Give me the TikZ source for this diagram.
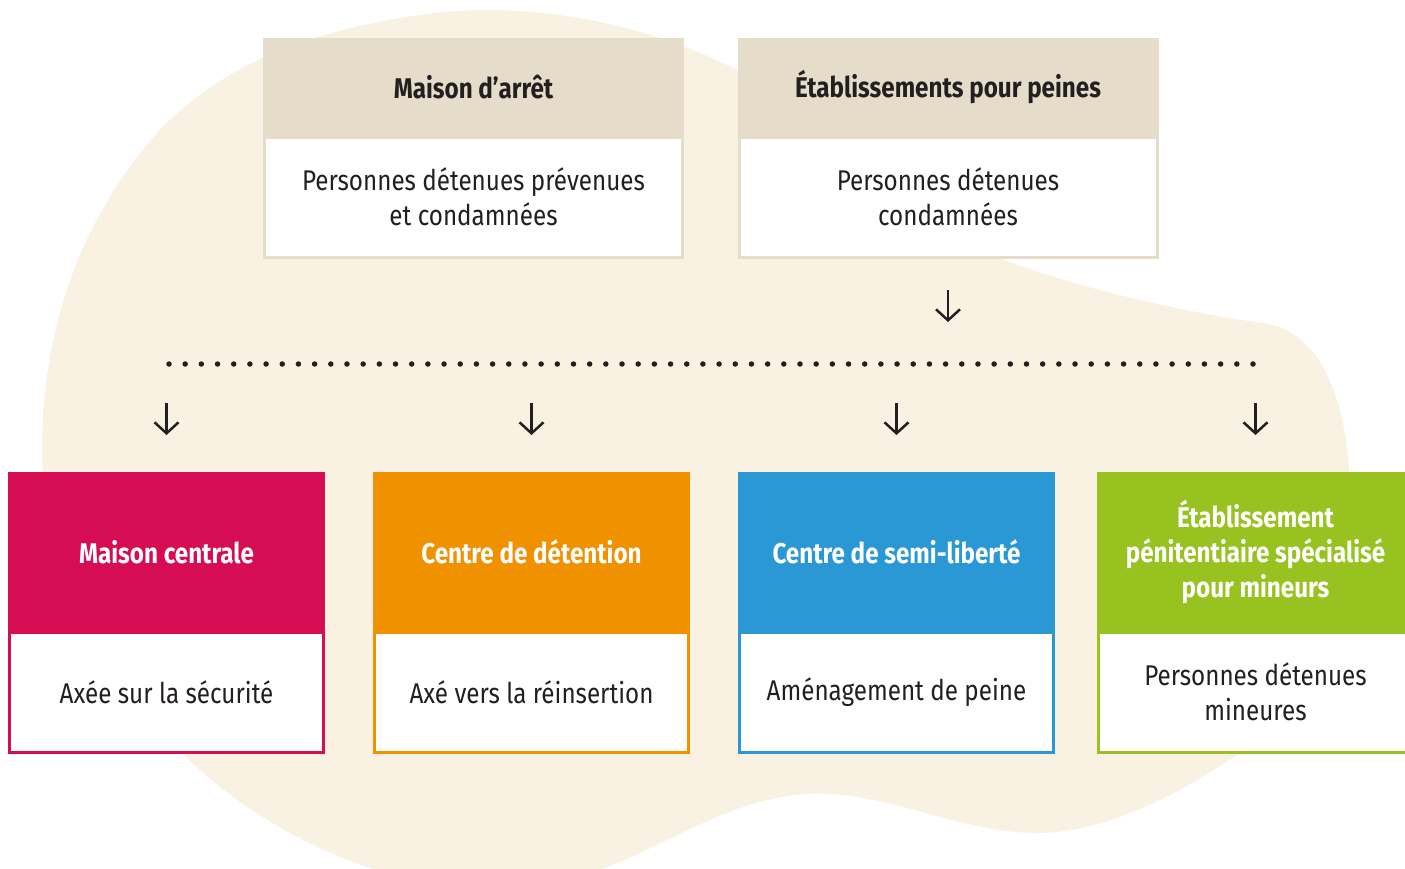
\documentclass[tikz,border=0pt]{standalone}
\usepackage{fontspec}
\setmainfont{Fira Sans}[FakeStretch=0.85]
\usetikzlibrary{positioning,arrows.meta}
\definecolor{blob}{HTML}{F9F1E1}
\definecolor{beige}{HTML}{E5DDCA}
\definecolor{ink}{HTML}{231F20}
\definecolor{rouge}{HTML}{D60D52}
\definecolor{orangec}{HTML}{F09200}
\definecolor{bleu}{HTML}{2B98D6}
\definecolor{vert}{HTML}{97C21F}

\begin{document}
\begin{tikzpicture}[x=1pt,y=-1pt]
        \tikzstyle{every node}+=[inner sep=0pt, outer sep=0pt, align=center, font=\fontsize{28.5}{35}\selectfont]
        \tikzstyle{tophead}=[fill=beige, minimum width=421pt, minimum height=99pt, text=ink, font=\fontsize{28.5}{35}\selectfont\bfseries]
        \tikzstyle{topbody}=[fill=white, draw=beige, line width=3pt, minimum width=418pt, minimum height=120pt, text=ink]
        \tikzstyle{head}=[minimum width=317pt, minimum height=160pt, text=white, font=\fontsize{28.5}{35}\selectfont\bfseries]
        \tikzstyle{body}=[fill=white, line width=3pt, minimum width=314pt, minimum height=120pt, text=ink]
        \tikzstyle{arr}=[draw=ink, line width=2.5pt, -{Straight Barb[length=11pt,width=24pt]}]
        \tikzstyle{dots}=[draw=ink, line width=5.5pt, line cap=round, dash pattern=on 0pt off 16.179pt]
        \useasboundingbox (0,0) rectangle (1405,868);
        \clip (0,0) rectangle (1405,868);
        \fill [blob] (420,15) .. controls (520,0) and (640,20) .. (737,70)
            .. controls (820,115) and (900,215) .. (1000,258)
            .. controls (1080,290) and (1200,315) .. (1263,323)
            .. controls (1330,333) and (1350,420) .. (1350,500)
            .. controls (1350,640) and (1300,720) .. (1237,755)
            .. controls (1170,800) and (1090,840) .. (1017,832)
            .. controls (940,825) and (880,790) .. (806,794)
            .. controls (700,800) and (620,890) .. (500,890)
            .. controls (380,890) and (260,830) .. (184,755)
            .. controls (110,680) and (42,560) .. (42,450)
            .. controls (42,330) and (80,220) .. (157,133)
            .. controls (230,55) and (330,28) .. (420,15) -- cycle;
        \node [tophead] (ma) at (473.5,87.5) {Maison d’arrêt};
        \node [topbody, below=0pt of ma] (mab) {Personnes détenues prévenues\\et condamnées};
        \node [tophead] (ep) at (948,87.5) {Établissements pour peines};
        \node [topbody, below=0pt of ep] (epb) {Personnes détenues\\condamnées};
        \draw [arr] ([yshift=-33pt]epb.south) -- ([yshift=-65pt]epb.south);
        \coordinate (dl) at (169,364);
        \coordinate (dr) at (1253,364);
        \draw [dots] (dl) -- (dr);
        \node [head, fill=rouge] (mc) at (166.5,552) {Maison centrale};
        \node [body, draw=rouge, below=0pt of mc] (mcb) {Axée sur la sécurité};
        \node [head, fill=orangec] (cd) at (531.5,552) {Centre de détention};
        \node [body, draw=orangec, below=0pt of cd] (cdb) {Axé vers la réinsertion};
        \node [head, fill=bleu] (csl) at (896.5,552) {Centre de semi-liberté};
        \node [body, draw=bleu, below=0pt of csl] (cslb) {Aménagement de peine};
        \node [head, fill=vert] (epm) at (1255.5,552) {Établissement\\pénitentiaire spécialisé\\pour mineurs};
        \node [body, draw=vert, below=0pt of epm] (epmb) {Personnes détenues\\mineures};
        \foreach \b in {mc,cd,csl,epm}
            \draw [arr] ([yshift=69pt]\b.north) -- ([yshift=37pt]\b.north);
    \end{tikzpicture}
\end{document}
